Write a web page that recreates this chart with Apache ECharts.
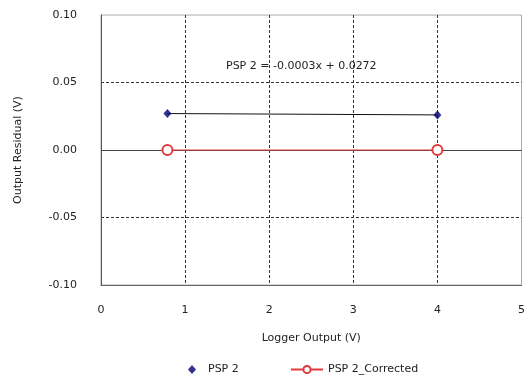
<!DOCTYPE html>
<html>
<head>
<meta charset="utf-8">
<script src="https://cdn.jsdelivr.net/npm/echarts@6/dist/echarts.min.js"></script>
<style>
  html, body { margin: 0; padding: 0; background: #fff; }
  #main { width: 528px; height: 381px; }
</style>
</head>
<body>
<div id="main"></div>
<script>
// readings from the picture
var loggerOutput = [0.79, 4.0];
var psp2 = [0.0270, 0.0260];
var psp2Corrected = [0.0, 0.0];
var trendLabel = 'PSP 2 = -0.0003x + 0.0272';

function pairs(xs, ys) {
  return xs.map(function (x, i) { return [x, ys[i]]; });
}

var txt = { color: '#222', fontFamily: 'DejaVu Sans', fontSize: 11 };

var myChart = echarts.init(document.getElementById('main'));

option = {
  animation: false,
  textStyle: txt,
  grid: {
    left: 101, right: 6, top: 15, bottom: 96,
    show: true, borderColor: '#aaa', borderWidth: 1
  },
  graphic: [{
    type: 'text', left: 226, top: 61,
    style: { text: trendLabel, fill: '#222', font: '11px DejaVu Sans' }
  }],
  legend: [
    {
      top: 359, left: 183, itemWidth: 8, itemHeight: 9,
      textStyle: { color: '#222', fontFamily: 'DejaVu Sans', fontSize: 11, padding: [0, 0, 0, 7] },
      data: ['PSP 2']
    },
    {
      top: 359, left: 285, itemWidth: 32, itemHeight: 9,
      textStyle: txt,
      data: ['PSP 2_Corrected']
    }
  ],
  xAxis: {
    type: 'value', min: 0, max: 5, interval: 1,
    name: 'Logger Output (V)', nameLocation: 'middle', nameGap: 48,
    nameTextStyle: txt,
    axisLine: { show: true, onZero: false, lineStyle: { color: '#666' } },
    axisTick: { show: false },
    axisLabel: { margin: 20, color: '#222', fontSize: 11 },
    splitLine: { show: true, showMinLine: false, showMaxLine: false,
      lineStyle: { color: '#333', type: [3, 2] } }
  },
  yAxis: {
    type: 'value', min: -0.1, max: 0.1, interval: 0.05,
    name: 'Output Residual (V)', nameLocation: 'middle', nameGap: 77,
    nameTextStyle: txt,
    axisLine: { show: true, lineStyle: { color: '#555' } },
    axisTick: { show: false },
    axisLabel: { margin: 24, color: '#222', fontSize: 11,
      formatter: function (v) { return v.toFixed(2); } },
    splitLine: { show: true, showMinLine: false, showMaxLine: false,
      lineStyle: { color: '#333', type: [3, 2] } }
  },
  series: [
    {
      name: 'zero', type: 'line', data: [], silent: true, z: 1,
      markLine: {
        silent: true, symbol: 'none', label: { show: false },
        lineStyle: { color: '#444', type: 'solid', width: 1.2 },
        data: [{ yAxis: 0 }]
      }
    },
    {
      name: 'trend', type: 'line', data: pairs(loggerOutput, psp2),
      showSymbol: false, symbol: 'none', silent: true,
      lineStyle: { color: '#111', width: 1 },
      z: 2
    },
    {
      name: 'PSP 2_Corrected', type: 'line', data: pairs(loggerOutput, psp2Corrected),
      symbol: 'emptyCircle', symbolSize: 10,
      itemStyle: { color: '#e23a3a', borderWidth: 1 },
      lineStyle: { color: '#e23a3a', width: 1 },
      z: 5
    },
    {
      name: 'PSP 2', type: 'scatter', data: pairs(loggerOutput, psp2),
      symbol: 'diamond', symbolSize: [8, 9],
      itemStyle: { color: '#000070' },
      z: 6
    }
  ]
};

myChart.setOption(option);
</script>
</body>
</html>
